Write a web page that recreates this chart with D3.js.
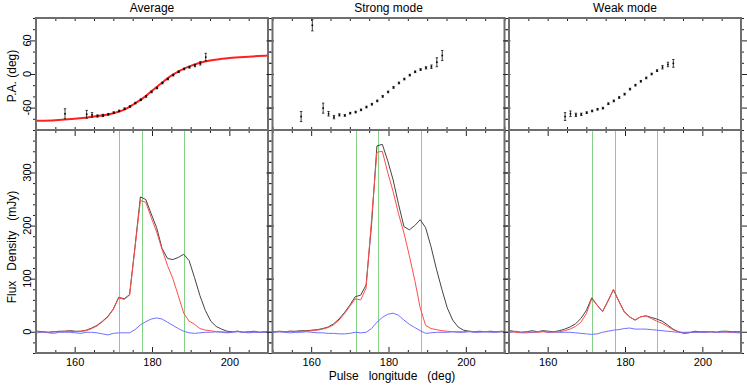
<!DOCTYPE html>
<html>
<head>
<meta charset="utf-8">
<script src="https://cdn.jsdelivr.net/npm/d3@7"></script>
<style>
  body { margin: 0; background: #fff; }
  text { font-family: "Liberation Sans", Arial, sans-serif; fill: #000; }
</style>
</head>
<body>
<div id="chart"></div>
<script>
// ||================================||
// || DATA                           ||
// ||================================||

var titles = ["Average", "Strong mode", "Weak mode"];
var xTicks = [160, 180, 200];
var paTicks = [-60, 0, 60];
var fluxTicks = [0, 100, 200, 300];
var compLon = [171.5, 177.3, 188.3];

// profile longitudes (deg)
var lon = [149.0, 150.4, 151.8, 153.2, 154.6, 156.0, 157.4, 158.8, 160.2, 161.6,
  163.0, 164.4, 165.8, 167.2, 168.6, 170.0, 171.4, 172.8, 174.2, 175.6,
  177.0, 178.4, 179.8, 181.2, 182.6, 184.0, 185.4, 186.8, 188.2, 189.6,
  191.0, 192.4, 193.8, 195.2, 196.6, 198.0, 199.4, 200.8, 202.2, 203.6,
  205.0, 206.4, 207.8, 209.2, 210.6];

// Average: total, linear, circular (mJy)
var avgI = [0, 1, 0, -1, 0, 1, 1, 2, 1, 1,
  3, 7, 12, 20, 29, 43, 65, 62, 70, 160,
  254, 249, 222, 196, 157, 138, 136, 140, 146, 134,
  102, 68, 40, 20, 10, 5, 1, 0, 1, -1,
  0, 1, -1, 0, 0];
var avgL = [0, 0, -1, -1, 0, 0, 1, 1, 0, 1,
  2, 6, 11, 19, 28, 42, 64, 61, 69, 158,
  247, 244, 215, 188, 155, 125, 100, 68, 35, 20,
  14, 6, 3, 2, 0, 0, -1, 0, 1, -1,
  0, 0, -1, 0, 0];
var avgV = [-1, -2, 0, -2, -3, -1, -1, -1, -2, -3,
  -1, -1, -2, -4, -6, -3, -2, -2, -2, 4,
  13, 19, 24, 26, 24, 18, 12, 6, 1, -2,
  -3, -2, -1, -1, 0, -1, -2, -1, 0, -1,
  -2, -1, -1, -1, -1];

// Strong mode
var strI = [0, 0, 1, 0, 1, 1, 2, 2, 3, 4,
  6, 9, 15, 24, 36, 50, 66, 69, 88, 200,
  350, 353, 322, 286, 240, 198, 192, 200, 211, 196,
  160, 118, 80, 45, 22, 9, 3, 1, 0, 1,
  0, 1, 0, 1, 0];
var strL = [0, 0, 0, 0, 1, 0, 1, 1, 2, 3,
  5, 8, 13, 22, 34, 48, 62, 60, 82, 210,
  338, 340, 300, 264, 222, 186, 143, 97, 45, 12,
  6, 4, 2, 1, 0, 0, 0, 1, 0, 0,
  0, 0, 0, 0, 0];
var strV = [-1, -1, 0, -1, -2, -1, -1, 0, -1, -2,
  -2, -3, -3, -4, -4, -3, -1, -2, -1, 6,
  18, 27, 33, 35, 31, 22, 14, 8, 2, -3,
  -2, -1, -1, -1, 0, -1, -1, 0, -1, -1,
  0, -1, -1, 0, 0];

// Weak mode
var weakI = [1, 2, 0, -1, 0, 2, 0, 2, 1, 0,
  2, 5, 9, 15, 25, 40, 64, 50, 38, 58,
  79, 58, 38, 28, 22, 28, 30, 27, 24, 20,
  13, 5, 0, -3, -2, 1, 0, 0, 0, -1,
  1, 1, 0, 0, 0];
var weakL = [0, 0, -1, -2, -2, -1, -1, 0, -1, -1,
  0, 2, 5, 10, 18, 34, 62, 50, 38, 58,
  80, 57, 37, 28, 22, 28, 30, 25, 20, 16,
  10, 4, 0, -2, -1, -1, 0, -1, 0, -1,
  0, -1, -1, -2, -2];
var weakV = [0, -1, 1, -1, 0, -1, 0, 1, -1, 0,
  -1, -1, -1, -2, -3, -4, -5, -4, -1, 1,
  3, 4, 6, 7, 5, 5, 5, 4, 3, 2,
  1, 0, -1, -1, -1, -1, -1, -1, 0, -1,
  -1, 0, -1, -1, -1];

// position angle (deg) with errors
var paLonAvg = [157.5, 163.1, 164.5, 165.9, 167.3, 168.7, 170.1, 171.5, 172.9, 174.3,
  175.7, 177.1, 178.5, 179.9, 181.3, 182.7, 184.1, 185.5, 186.9, 188.3,
  189.7, 191.1, 192.5, 193.9];
var paAvg = [-71, -72, -73, -75, -74, -72, -69, -66, -62, -58,
  -52, -46, -40, -32, -25, -16, -9, -2, 4, 9,
  12, 15, 19, 30];
var paErrAvg = [9, 7, 4, 2, 2, 1.5, 1.5, 1.5, 1.5, 1.5,
  1.5, 1.5, 1.5, 1.5, 1.5, 1.5, 1.5, 1.5, 1.5, 1.5,
  1.5, 2, 3, 7];

var paLonStr = [157.4, 160.3, 163.1, 164.5, 165.9, 167.3, 168.7, 170.1, 171.5, 172.9,
  174.3, 175.7, 177.1, 178.5, 179.9, 181.3, 182.7, 184.1, 185.5, 186.9,
  188.3, 189.7, 191.1, 192.5, 193.9];
var paStr = [-76, 87, -61, -71, -77, -73, -74, -70, -68, -64,
  -59, -54, -48, -40, -32, -24, -16, -9, -2, 4,
  8, 11, 13, 21, 33];
var paErrStr = [9, 10, 9, 4, 3, 2, 1.5, 1.5, 1.5, 1.5,
  1.5, 1.5, 1.5, 1.5, 1.5, 1.5, 1.5, 1.5, 1.5, 1.5,
  1.5, 2, 3, 8, 9];

var paLonWeak = [164.5, 165.9, 167.3, 168.7, 170.1, 171.5, 172.9, 174.3, 175.7, 177.1,
  178.5, 179.9, 181.3, 182.7, 184.1, 185.5, 186.9, 188.3, 189.7, 191.1,
  192.5];
var paWeak = [-76, -71, -73, -72, -69, -66, -63, -61, -53, -48,
  -42, -36, -27, -20, -13, -7, 0, 6, 12, 17,
  19];
var paErrWeak = [7, 5, 3, 2, 1.5, 1.5, 1.5, 1.5, 1.5, 1.5,
  1.5, 1.5, 1.5, 1.5, 1.5, 1.5, 1.5, 1.5, 3, 4,
  7];

// fitted PA swing on the average profile
var fitLon = [145, 150, 155, 160, 165, 170, 173, 175, 177.5, 180,
  182.5, 185, 187.5, 190, 192.5, 195, 200, 205, 210, 215];
var fitPA = [-84, -83.5, -82.5, -80, -76, -70, -63, -55, -44, -30,
  -16, -3, 7, 14.5, 20, 24, 28.5, 31, 33, 34];

// ||================================||
// || LAYOUT                         ||
// ||================================||

var width = 747, height = 391;
var panelLeft = [36, 272.5, 509], panelW = 232;
var topY = 18, midY = 130, botY = 353;

var panels = [
  { title: titles[0], I: avgI, L: avgL, V: avgV, paLon: paLonAvg, pa: paAvg, paErr: paErrAvg, fit: true },
  { title: titles[1], I: strI, L: strL, V: strV, paLon: paLonStr, pa: paStr, paErr: paErrStr, fit: false },
  { title: titles[2], I: weakI, L: weakL, V: weakV, paLon: paLonWeak, pa: paWeak, paErr: paErrWeak, fit: false }
];

var svg = d3.select("#chart")
  .append("svg")
    .attr("width", width)
    .attr("height", height);

var yPA = d3.scaleLinear().domain([-100, 100]).range([midY, topY]);
var yF = d3.scaleLinear().domain([-40, 380]).range([botY, midY]);

var minorX = d3.range(150, 211, 5).filter(function(v) { return xTicks.indexOf(v) < 0; });
var minorPA = d3.range(-100, 101, 20);
var minorF = d3.range(-40, 381, 20).filter(function(v) { return fluxTicks.indexOf(v) < 0; });

function tickAxis(g, axis, vals, size) {
  g.call(axis.tickValues(vals).tickSize(size).tickFormat(""))
  g.select(".domain").remove();
  g.selectAll("line").attr("stroke", "#222");
}

panels.forEach(function(p, i) {
  var x0 = panelLeft[i], x1 = x0 + panelW;
  var x = d3.scaleLinear().domain([150, 210]).range([x0, x1]);
  var g = svg.append("g");

  var clipId = "clip" + i;
  svg.append("clipPath").attr("id", clipId)
    .append("rect").attr("x", x0).attr("y", topY).attr("width", panelW).attr("height", botY - topY);

  // green component markers
  g.append("g").selectAll("line").data(compLon).enter().append("line")
    .attr("x1", function(d) { return Math.round(x(d)) + 0.5; })
    .attr("x2", function(d) { return Math.round(x(d)) + 0.5; })
    .attr("y1", midY).attr("y2", botY)
    .attr("stroke", "#86cf86").attr("stroke-width", 1);

  // profiles
  var plot = g.append("g").attr("clip-path", "url(#" + clipId + ")");
  var series = [[p.I, "#444"], [p.L, "#ff4d4d"], [p.V, "#7070ff"]];
  series.forEach(function(s) {
    var line = d3.line()
      .x(function(d, k) { return x(lon[k]); })
      .y(function(d) { return yF(d); });
    plot.append("path")
      .datum(s[0])
      .attr("d", line)
      .attr("fill", "none")
      .attr("stroke", s[1])
      .attr("stroke-width", 1);
  });

  // PA fit
  if (p.fit) {
    var fitLine = d3.line().curve(d3.curveMonotoneX)
      .x(function(d, k) { return x(fitLon[k]); })
      .y(function(d) { return yPA(d); });
    plot.append("path").datum(fitPA)
      .attr("d", fitLine).attr("fill", "none")
      .attr("stroke", "#ff2020").attr("stroke-width", 2);
  }

  // PA points
  var pts = plot.append("g").selectAll("g").data(p.pa).enter().append("g");
  pts.append("line")
    .attr("x1", function(d, k) { return x(p.paLon[k]); })
    .attr("x2", function(d, k) { return x(p.paLon[k]); })
    .attr("y1", function(d, k) { return yPA(d - p.paErr[k]); })
    .attr("y2", function(d, k) { return yPA(d + p.paErr[k]); })
    .attr("stroke", "#111").attr("stroke-width", 0.8);
  [-1, 1].forEach(function(sgn) {
    pts.append("line")
      .attr("x1", function(d, k) { return x(p.paLon[k]) - 1.2; })
      .attr("x2", function(d, k) { return x(p.paLon[k]) + 1.2; })
      .attr("y1", function(d, k) { return yPA(d + sgn * p.paErr[k]); })
      .attr("y2", function(d, k) { return yPA(d + sgn * p.paErr[k]); })
      .attr("stroke", "#111").attr("stroke-width", 0.8);
  });
  pts.append("rect")
    .attr("x", function(d, k) { return x(p.paLon[k]) - 0.8; })
    .attr("y", function(d) { return yPA(d) - 0.8; })
    .attr("width", 1.6).attr("height", 1.6).attr("fill", "#000");

  // ticks, all pointing inward
  tickAxis(g.append("g").attr("transform", "translate(0," + topY + ")"), d3.axisTop(x), minorX.concat(xTicks), -3);
  tickAxis(g.append("g").attr("transform", "translate(0," + midY + ")"), d3.axisBottom(x), minorX.concat(xTicks), -3);
  tickAxis(g.append("g").attr("transform", "translate(0," + midY + ")"), d3.axisTop(x), minorX, -3);
  tickAxis(g.append("g").attr("transform", "translate(0," + midY + ")"), d3.axisTop(x), xTicks, -6);
  tickAxis(g.append("g").attr("transform", "translate(0," + botY + ")"), d3.axisBottom(x), minorX, -3);

  var xb = g.append("g").attr("transform", "translate(0," + botY + ")")
    .call(d3.axisBottom(x).tickValues(xTicks).tickSize(-6).tickPadding(5));
  xb.select(".domain").remove();
  xb.selectAll("line").attr("stroke", "#222");
  xb.selectAll("text").style("font-size", "11px").style("font-family", "Liberation Sans, Arial, sans-serif");

  [[d3.axisRight, x0, -1], [d3.axisLeft, x1, 1]].forEach(function(a) {
    var tr = "translate(" + a[1] + ",0)";
    tickAxis(g.append("g").attr("transform", tr), a[0](yPA), minorPA.filter(function(v) { return paTicks.indexOf(v) < 0; }), -3);
    tickAxis(g.append("g").attr("transform", tr), a[0](yPA), paTicks, -6);
    tickAxis(g.append("g").attr("transform", tr), a[0](yF), minorF, -3);
    tickAxis(g.append("g").attr("transform", tr), a[0](yF), fluxTicks, -6);
  });

  // frames
  g.append("rect").attr("x", x0).attr("y", topY).attr("width", panelW).attr("height", midY - topY)
    .attr("fill", "none").attr("stroke", "#6e6e6e").attr("stroke-width", 2);
  g.append("rect").attr("x", x0).attr("y", midY).attr("width", panelW).attr("height", botY - midY)
    .attr("fill", "none").attr("stroke", "#6e6e6e").attr("stroke-width", 2);

  g.append("text")
    .attr("x", (x0 + x1) / 2).attr("y", 12)
    .attr("text-anchor", "middle")
    .style("font-size", "12px")
    .text(p.title);

  // y labels on the first panel only
  if (i == 0) {
    paTicks.forEach(function(v) {
      g.append("text")
        .attr("transform", "translate(27," + yPA(v) + ") rotate(-90)")
        .attr("text-anchor", "middle").attr("dy", "0.35em")
        .style("font-size", "11px").text(v);
    });
    fluxTicks.forEach(function(v) {
      g.append("text")
        .attr("transform", "translate(27," + yF(v) + ") rotate(-90)")
        .attr("text-anchor", "middle").attr("dy", "0.35em")
        .style("font-size", "11px").text(v);
    });
  }
});

svg.append("text")
  .attr("transform", "translate(12,76) rotate(-90)")
  .attr("text-anchor", "middle").attr("dy", "0.35em")
  .style("font-size", "12px")
  .text("P.A. (deg)");

svg.append("text")
  .attr("transform", "translate(12,247) rotate(-90)")
  .attr("text-anchor", "middle").attr("dy", "0.35em")
  .style("font-size", "12px").style("white-space", "pre")
  .text("Flux   Density   (mJy)");

svg.append("text")
  .attr("x", 392).attr("y", 380)
  .attr("text-anchor", "middle")
  .style("font-size", "12px").style("white-space", "pre")
  .text("Pulse   longitude   (deg)");
</script>
</body>
</html>
